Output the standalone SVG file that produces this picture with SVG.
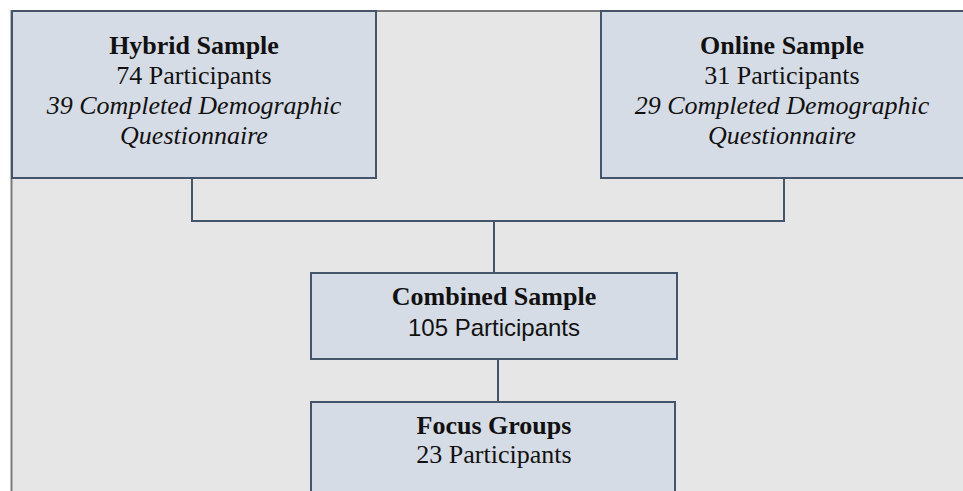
<svg xmlns="http://www.w3.org/2000/svg" width="963" height="491" viewBox="0 0 963 491">
<style>
.box{fill:#d6dce5;stroke:#44546a;stroke-width:2}
.conn{fill:none;stroke:#44546a;stroke-width:2}
.t{font-family:"Liberation Serif","Times New Roman",serif;font-size:26px;fill:#111;text-anchor:middle}
.b{font-weight:bold}
.i{font-style:italic}
.s{font-family:"Liberation Sans",Arial,sans-serif;font-size:24px;fill:#111;text-anchor:middle}
</style>
<rect x="0" y="0" width="963" height="491" fill="#ffffff"/>
<rect x="12" y="11" width="951" height="480" fill="#e6e6e6"/>
<path d="M11.5 491 V11 H963" fill="none" stroke="#7a7a7a" stroke-width="2"/>
<g id="connectors">
<path class="conn" d="M192 178 V221 H784 V178"/>
<path class="conn" d="M494 221 V273"/>
<path class="conn" d="M498 359 V402"/>
</g>
<g id="hybrid">
<rect class="box" x="12" y="11" width="364" height="167"/>
<text class="t b" x="194" y="54">Hybrid Sample</text>
<text class="t" x="194" y="84">74 Participants</text>
<text class="t i" x="194" y="114">39 Completed Demographic</text>
<text class="t i" x="194" y="144">Questionnaire</text>
</g>
<g id="online">
<rect class="box" x="601" y="11" width="370" height="167"/>
<text class="t b" x="782" y="54">Online Sample</text>
<text class="t" x="782" y="84">31 Participants</text>
<text class="t i" x="782" y="114">29 Completed Demographic</text>
<text class="t i" x="782" y="144">Questionnaire</text>
</g>
<g id="combined">
<rect class="box" x="311" y="273" width="366" height="86"/>
<text class="t b" x="494" y="305">Combined Sample</text>
<text class="s" x="494" y="336">105 Participants</text>
</g>
<g id="focus">
<rect class="box" x="311" y="402" width="364" height="100"/>
<text class="t b" x="494" y="434">Focus Groups</text>
<text class="t" x="494" y="463">23 Participants</text>
</g>
</svg>
